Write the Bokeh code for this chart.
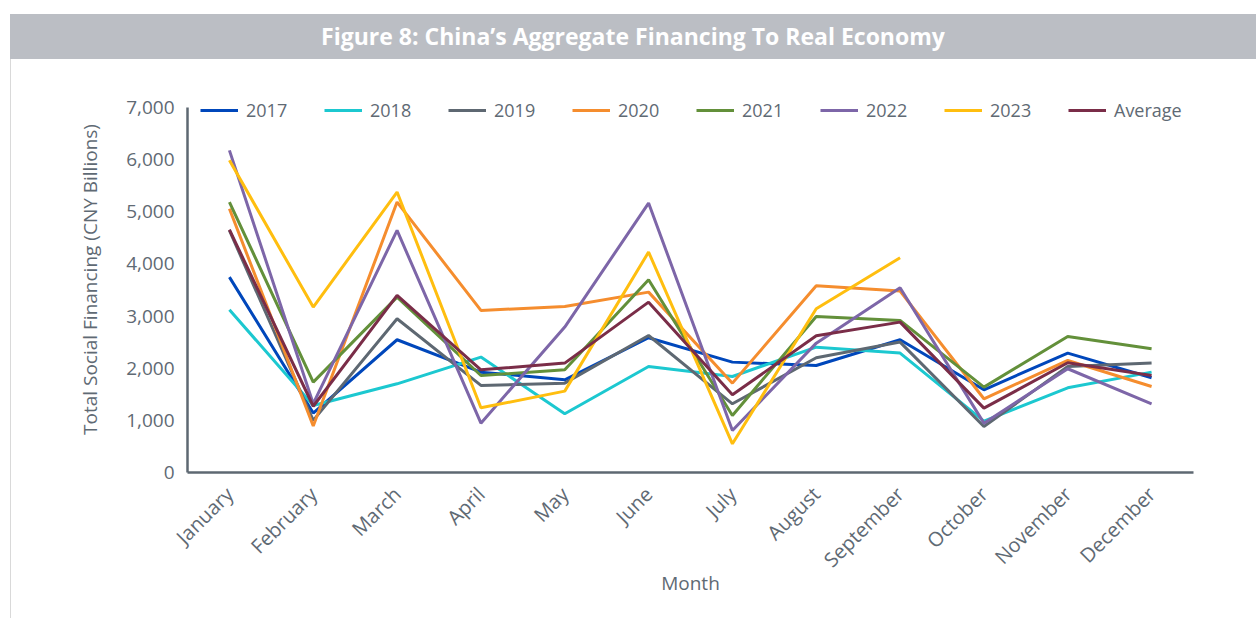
from bokeh.plotting import figure
from bokeh.models import Range1d, FactorRange, Legend, LegendItem, NumeralTickFormatter, FixedTicker, Div
from bokeh.layouts import column, row
from bokeh.embed import file_html
from bokeh.resources import INLINE
import math

months = ["January", "February", "March", "April", "May", "June", "July",
          "August", "September", "October", "November", "December"]

y2017 = [3746, 1140, 2545, 1924, 1777, 2583, 2116, 2052, 2545, 1586, 2289, 1816]
y2018 = [3120, 1285, 1700, 2212, 1125, 2033, 1841, 2403, 2289, 985, 1624, 1924]
y2019 = [4640, 1000, 2947, 1669, 1713, 2627, 1317, 2199, 2500, 882, 2033, 2097]
y2020 = [5057, 890, 5184, 3107, 3184, 3458, 1713, 3580, 3478, 1413, 2148, 1649]
y2021 = [5184, 1733, 3363, 1860, 1969, 3695, 1093, 2992, 2915, 1637, 2608, 2372]
y2022 = [6175, 1320, 4641, 946, 2788, 5165, 806, 2480, 3542, 946, 1989, 1317]
y2023 = [5984, 3171, 5376, 1240, 1560, 4226, 550, 3139, 4117]
y_avg = [4655, 1270, 3395, 1969, 2097, 3266, 1490, 2621, 2883, 1234, 2104, 1860]

series_names = ["2017", "2018", "2019", "2020", "2021", "2022", "2023", "Average"]
series_values = [y2017, y2018, y2019, y2020, y2021, y2022, y2023, y_avg]
series_colors = ["#0047BB", "#1CC8D0", "#5E6872", "#F58D2E", "#63903A",
                 "#7D66A8", "#FFBE0F", "#7A2D48"]

y_ticks = [0, 1000, 2000, 3000, 4000, 5000, 6000, 7000]

TEXT = "#5F6A74"
FONT = "Open Sans"
TITLE = "Figure 8: China\u2019s Aggregate Financing To Real Economy"

# ---- banner ----
banner = Div(text=TITLE, width=1246, height=45, margin=(14, 0, 0, 10),
             styles={"background-color": "#BBBEC4", "color": "white",
                     "font-family": FONT, "font-weight": "bold", "font-size": "23px",
                     "text-align": "center", "line-height": "45px",
                     "justify-content": "center"})

edge = Div(text="", width=1, height=559, margin=(0, 0, 0, 10),
           styles={"background-color": "#D9D9D9"})

# ---- main chart ----
p = figure(width=1245, height=559, x_range=FactorRange(*months, range_padding=0),
           y_range=Range1d(0, 7400), output_backend="svg", toolbar_location=None,
           min_border_top=27, min_border_bottom=146, min_border_left=176, min_border_right=63)
p.outline_line_color = None
p.grid.visible = False
p.background_fill_color = "white"
p.border_fill_color = "white"

items = []
for name, vals, col in zip(series_names, series_values, series_colors):
    r = p.line(x=months[:len(vals)], y=vals, line_color=col, line_width=3)
    items.append(LegendItem(label=name, renderers=[r]))

legend = Legend(items=items, orientation="horizontal", location=(13, 350),
                label_text_font=FONT, label_text_font_size="18px", label_text_color=TEXT,
                glyph_width=38, glyph_height=18, label_standoff=8, label_width=78,
                spacing=0, padding=0, margin=0, border_line_color=None,
                background_fill_alpha=0)
p.add_layout(legend, "center")

for ax in (p.xaxis[0], p.yaxis[0]):
    ax.axis_line_color = "#5E6872"
    ax.axis_line_width = 2.5
    ax.major_tick_line_color = None
    ax.minor_tick_line_color = None
    ax.major_label_text_font = FONT
    ax.major_label_text_color = TEXT
    ax.axis_label_text_font = FONT
    ax.axis_label_text_color = TEXT
    ax.axis_label_text_font_size = "19px"
    ax.axis_label_text_font_style = "normal"

p.yaxis[0].ticker = FixedTicker(ticks=y_ticks)
p.yaxis[0].formatter = NumeralTickFormatter(format="0,0")
p.yaxis[0].bounds = (0, 7000)
p.yaxis[0].axis_label = "Total Social Financing (CNY Billions)"
p.yaxis[0].major_label_text_font_size = "19px"
p.yaxis[0].major_label_standoff = 7
p.yaxis[0].axis_label_standoff = 20

p.xaxis[0].axis_label = "Month"
p.xaxis[0].major_label_text_font_size = "20px"
p.xaxis[0].major_label_orientation = math.pi / 4
p.xaxis[0].major_label_standoff = 12
p.xaxis[0].axis_label_standoff = -15

layout = column(banner, row(edge, p, spacing=0), spacing=0)
open("out.html", "w").write(file_html(layout, INLINE))
